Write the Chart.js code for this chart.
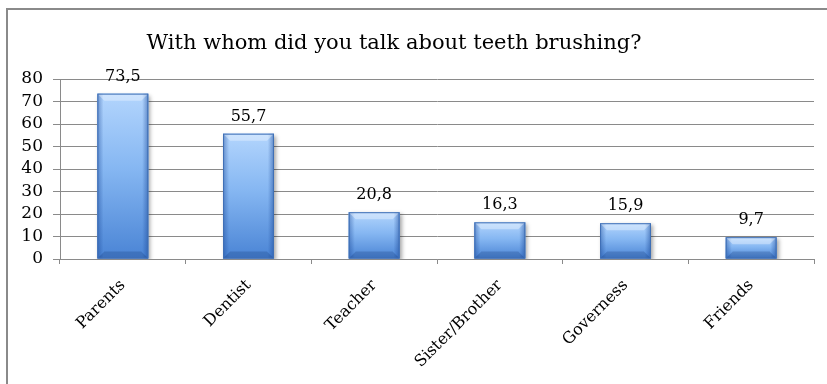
<!DOCTYPE html>
<html>
<head>
<meta charset="utf-8">
<script src="https://cdn.jsdelivr.net/npm/chart.js@4.4.1/dist/chart.umd.min.js"></script>
<style>
  html, body { margin: 0; padding: 0; background: #fff; }
  #wrap { position: relative; width: 827px; height: 384px; }
  #frame {
    position: absolute; left: 6px; top: 8px; right: -4px; bottom: -4px;
    border-left: 2px solid #8a8a8a; border-top: 2px solid #8a8a8a;
  }
  canvas { position: absolute; left: 0; top: 0; }
</style>
</head>
<body>
<div id="wrap">
  <div id="frame"></div>
  <canvas id="chart" width="827" height="384"></canvas>
</div>
<script>
const titleText = 'With whom did you talk about teeth brushing?';
const categories = ['Parents', 'Dentist', 'Teacher', 'Sister/Brother', 'Governess', 'Friends'];
const values = [73.5, 55.7, 20.8, 16.3, 15.9, 9.7];
const yTicks = [0, 10, 20, 30, 40, 50, 60, 70, 80];

const serif = '"DejaVu Serif", "Liberation Serif", serif';

const fmt = (v) => v.toFixed(1).replace('.', ',');

// title drawn by hand so it can sit left of the canvas centre like the original
const titlePlugin = {
    id: 'titleText',
    afterDraw(chart) {
        const ctx = chart.ctx;
        ctx.save();
        ctx.font = '21px ' + serif;
        ctx.fillStyle = '#000';
        ctx.textAlign = 'center';
        ctx.textBaseline = 'alphabetic';
        ctx.fillText(titleText, 394, 49);
        ctx.restore();
    }
};

// soft drop shadow under the bars
const shadowPlugin = {
    id: 'barShadow',
    beforeDatasetsDraw(chart) {
        const ctx = chart.ctx;
        ctx.save();
        ctx.shadowColor = 'rgba(0,0,0,0.35)';
        ctx.shadowBlur = 4;
        ctx.shadowOffsetX = 2;
        ctx.shadowOffsetY = 2;
    },
    afterDatasetsDraw(chart) {
        chart.ctx.restore();
    }
};

// gradient + bevel look and the value labels
const bevelPlugin = {
    id: 'bevel',
    afterDatasetsDraw(chart) {
        const ctx = chart.ctx;
        const meta = chart.getDatasetMeta(0);
        meta.data.forEach((bar, i) => {
            const x0 = bar.x - bar.width / 2, x1 = bar.x + bar.width / 2;
            const top = bar.y, bot = bar.base;
            const b = Math.min(7, (bot - top) / 3);
            ctx.save();

            let g = ctx.createLinearGradient(0, top, 0, bot);
            g.addColorStop(0, '#b3d5fd');
            g.addColorStop(0.45, '#86b7f2');
            g.addColorStop(1, '#4a84d5');
            ctx.fillStyle = g;
            ctx.fillRect(x0, top, x1 - x0, bot - top);

            g = ctx.createLinearGradient(x0, 0, x1, 0);
            g.addColorStop(0, 'rgba(25,70,150,0.45)');
            g.addColorStop(0.12, 'rgba(25,70,150,0)');
            g.addColorStop(0.88, 'rgba(25,70,150,0)');
            g.addColorStop(1, 'rgba(25,70,150,0.5)');
            ctx.fillStyle = g;
            ctx.fillRect(x0, top, x1 - x0, bot - top);

            ctx.fillStyle = 'rgba(255,255,255,0.35)';
            ctx.beginPath();
            ctx.moveTo(x0, top); ctx.lineTo(x1, top);
            ctx.lineTo(x1 - b, top + b); ctx.lineTo(x0 + b, top + b);
            ctx.closePath(); ctx.fill();

            ctx.fillStyle = 'rgba(10,40,100,0.22)';
            ctx.beginPath();
            ctx.moveTo(x0, bot); ctx.lineTo(x1, bot);
            ctx.lineTo(x1 - b, bot - b); ctx.lineTo(x0 + b, bot - b);
            ctx.closePath(); ctx.fill();

            ctx.strokeStyle = '#3f6fb5';
            ctx.lineWidth = 1;
            ctx.strokeRect(x0 + 0.5, top + 0.5, x1 - x0 - 1, bot - top - 1);

            ctx.font = '16px ' + serif;
            ctx.fillStyle = '#000';
            ctx.textAlign = 'center';
            ctx.textBaseline = 'bottom';
            ctx.fillText(fmt(values[i]), bar.x, top - 9);
            ctx.restore();
        });
    }
};

new Chart(document.getElementById('chart'), {
    type: 'bar',
    data: {
        labels: categories,
        datasets: [{
            data: values,
            backgroundColor: '#7fb0ef',
            borderWidth: 0,
            barPercentage: 0.405,
            categoryPercentage: 1
        }]
    },
    options: {
        responsive: false,
        animation: false,
        layout: { padding: { left: 8, right: 13, top: 79, bottom: 0 } },
        plugins: { legend: { display: false }, tooltip: { enabled: false }, title: { display: false } },
        scales: {
            x: {
                afterFit: (s) => { s.height = 125; },
                grid: { offset: true, drawOnChartArea: false, color: '#8a8a8a', tickLength: 5 },
                border: { color: '#8a8a8a' },
                ticks: {
                    autoSkip: false, minRotation: 45, maxRotation: 45, padding: 12,
                    color: '#000', font: { family: serif, size: 16 }
                }
            },
            y: {
                min: 0, max: 80,
                afterFit: (s) => { s.width = 52; },
                afterBuildTicks: (s) => { s.ticks = yTicks.map(v => ({ value: v })); },
                grid: { color: '#8a8a8a', tickLength: 7 },
                border: { color: '#8a8a8a' },
                ticks: { autoSkip: false, padding: 10, color: '#000', font: { family: serif, size: 17 } }
            }
        }
    },
    plugins: [titlePlugin, shadowPlugin, bevelPlugin]
});
</script>
</body>
</html>
